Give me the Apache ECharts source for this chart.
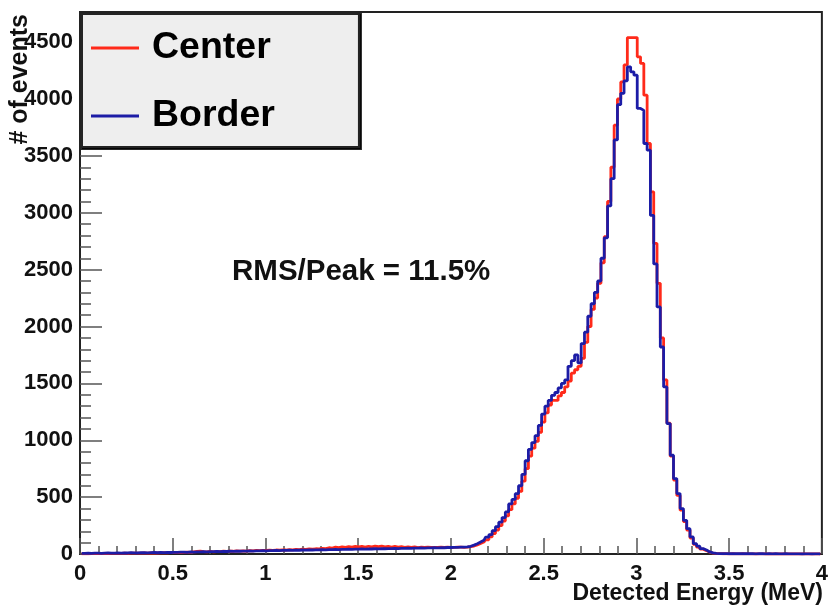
<!DOCTYPE html>
<html>
<head>
<meta charset="utf-8">
<script src="https://cdn.jsdelivr.net/npm/echarts@6/dist/echarts.min.js"></script>
<style>
html,body{margin:0;padding:0;background:#fff;}
#chart{width:831px;height:607px;}
</style>
</head>
<body>
<div id="chart"></div>
<script>
// Histogram binning (225 bins over 0..4 MeV)
var binLow = 0, binHigh = 4, nBins = 225;
var seriesNames = ['Center', 'Border'];
var xTickLabels = ['0','0.5','1','1.5','2','2.5','3','3.5','4'];
var yTickLabels = ['0','500','1000','1500','2000','2500','3000','3500','4000','4500'];
var yMax = 4765;

// Counts per bin, Center (red)
var centerCounts = [
  2,3,2,3,4,3,4,5,4,5,6,5,6,7,6,7,8,7,8,9,8,9,10,9,10,11,10,12,
  12,14,13,15,16,14,18,22,25,20,18,24,19,22,21,25,23,26,24,28,25,27,26,30,28,31,29,32,
  31,33,32,35,34,36,35,38,37,40,38,42,41,44,43,46,45,50,48,55,52,60,56,63,58,65,60,66,
  62,67,60,68,63,70,64,69,62,67,61,66,60,64,59,63,58,62,57,61,58,60,57,59,58,60,59,61,
  58,59,60,61,
  58,60,64,70,80,92,105,125,150,180,210,250,290,335,390,440,490,550,640,750,
  860,930,990,1070,1160,1240,1310,1350,1350,1390,1420,1470,1520,1590,1620,1650,1720,1860,2000,2150,
  2250,2380,2560,2790,3100,3400,3770,4000,4150,4300,4540,4540,4540,4371,4313,4034,3609,3184,2730,2380,
  1900,1530,1150,860,650,515,385,285,210,140,85,60,42,30,16,8,5,3,
  2,2,1,2,1,1,2,1,1,1,0,1,1,0,1,0,1,0,0,1,0,0,1,0,0,0,1,0,0,0,0
];
// Counts per bin, Border (blue)
var borderCounts = [
  6,5,7,6,8,7,6,8,9,7,8,9,8,10,9,11,10,9,11,12,10,12,13,11,13,12,14,13,
  15,14,16,17,15,18,17,19,18,20,19,21,20,22,21,23,22,24,23,25,24,26,25,27,26,28,27,29,
  28,30,29,31,30,32,31,33,32,34,33,35,34,36,35,37,36,38,37,39,38,40,39,41,40,42,41,43,
  42,44,43,45,44,46,45,47,46,48,47,49,48,50,49,51,50,52,51,53,52,54,53,55,54,56,55,57,
  57,58,59,60,
  60,62,68,78,90,105,120,148,170,205,240,280,320,370,440,480,530,600,700,820,
  920,980,1040,1130,1230,1300,1350,1395,1420,1460,1500,1530,1650,1700,1750,1680,1850,1950,2090,2200,
  2300,2400,2600,2780,3060,3300,3640,3950,4050,4160,4283,4239,4210,3917,3900,3609,3550,2977,2550,2172,
  1820,1469,1147,868,663,531,399,296,223,150,91,70,47,35,18,10,6,4,
  3,3,2,3,2,2,3,2,2,2,1,2,2,1,2,1,2,1,1,2,1,1,1,1,0,1,1,0,1,1,0
];
var seriesColors = ['#ff2a1a', '#1c1ca6'];

var binWidth = (binHigh - binLow) / nBins;
function toPoints(counts) {
  return counts.map(function (c, i) { return [binLow + (i + 0.5) * binWidth, c]; });
}

var FONT = '"Liberation Sans", Arial, Helvetica, sans-serif';
var chart = echarts.init(document.getElementById('chart'), null, {renderer: 'canvas'});
var tickColor = '#555';

var option = {
  animation: false,
  backgroundColor: '#ffffff',
  grid: {left: 80, right: 4, top: 12, bottom: 53, show: true, borderColor: '#222', borderWidth: 2, backgroundColor: 'transparent'},
  legend: {
    data: seriesNames,
    orient: 'vertical', left: 80, top: 12,
    backgroundColor: '#eeeeee', borderColor: '#222', borderWidth: 2,
    shadowColor: 'rgba(0,0,0,0.85)', shadowOffsetX: 2, shadowOffsetY: 2, shadowBlur: 0,
    padding: [17, 84, 12, 11], itemGap: 30, itemWidth: 48, itemHeight: 3, icon: 'rect',
    selectedMode: false,
    textStyle: {fontFamily: FONT, fontWeight: 'bold', fontSize: 37.5, color: '#000', padding: [0, 0, 0, 8]}
  },
  xAxis: {
    type: 'value', min: 0, max: 4, interval: 0.5,
    axisLine: {show: true, onZero: false, lineStyle: {color: '#222', width: 2}},
    axisTick: {show: true, inside: true, length: 16, lineStyle: {color: tickColor, width: 1.5}},
    minorTick: {show: true, splitNumber: 5, length: 8, lineStyle: {color: tickColor, width: 1.5}},
    splitLine: {show: false},
    axisLabel: {
      fontFamily: FONT, fontWeight: 'bold', fontSize: 22, color: '#111', margin: 9,
      formatter: function (v) { var i = Math.round(v / 0.5); return xTickLabels[i] !== undefined ? xTickLabels[i] : ''; }
    }
  },
  yAxis: [{
    type: 'value', min: 0, max: yMax, interval: 500, position: 'left',
    axisLine: {show: true, onZero: false, lineStyle: {color: '#222', width: 2}},
    axisTick: {show: true, inside: true, length: 22, lineStyle: {color: tickColor, width: 1.5}},
    splitLine: {show: false},
    axisLabel: {
      fontFamily: FONT, fontWeight: 'bold', fontSize: 22, color: '#111', margin: 7, showMaxLabel: false,
      formatter: function (v) { if (v % 500 !== 0) return ''; var i = v / 500; return yTickLabels[i] !== undefined ? yTickLabels[i] : ''; }
    }
  }, {
    type: 'value', min: 0, max: yMax, interval: 100, position: 'left', offset: 0,
    axisLine: {show: false},
    axisTick: {show: true, inside: true, length: 11, lineStyle: {color: tickColor, width: 1.5}},
    splitLine: {show: false},
    axisLabel: {show: false}
  }],
  series: [{
    name: seriesNames[0], type: 'line', step: 'middle', showSymbol: false, symbol: 'none',
    data: toPoints(centerCounts), yAxisIndex: 0,
    itemStyle: {color: seriesColors[0]},
    lineStyle: {color: seriesColors[0], width: 2.8}, z: 2
  }, {
    name: seriesNames[1], type: 'line', step: 'middle', showSymbol: false, symbol: 'none',
    data: toPoints(borderCounts), yAxisIndex: 0,
    itemStyle: {color: seriesColors[1]},
    lineStyle: {color: seriesColors[1], width: 2.8}, z: 3
  }],
  graphic: [{
    type: 'text', x: 20, y: 14, rotation: Math.PI / 2,
    style: {text: '# of events', font: 'bold 25px ' + FONT, fill: '#111', align: 'right', verticalAlign: 'middle'}
  }, {
    type: 'text', x: 232, y: 272,
    style: {text: 'RMS/Peak = 11.5%', font: 'bold 29.5px ' + FONT, fill: '#111', align: 'left', verticalAlign: 'middle'}
  }, {
    type: 'text', x: 823, y: 594,
    style: {text: 'Detected Energy (MeV)', font: 'bold 23px ' + FONT, fill: '#111', align: 'right', verticalAlign: 'middle'}
  }]
};
chart.setOption(option);
</script>
</body>
</html>
